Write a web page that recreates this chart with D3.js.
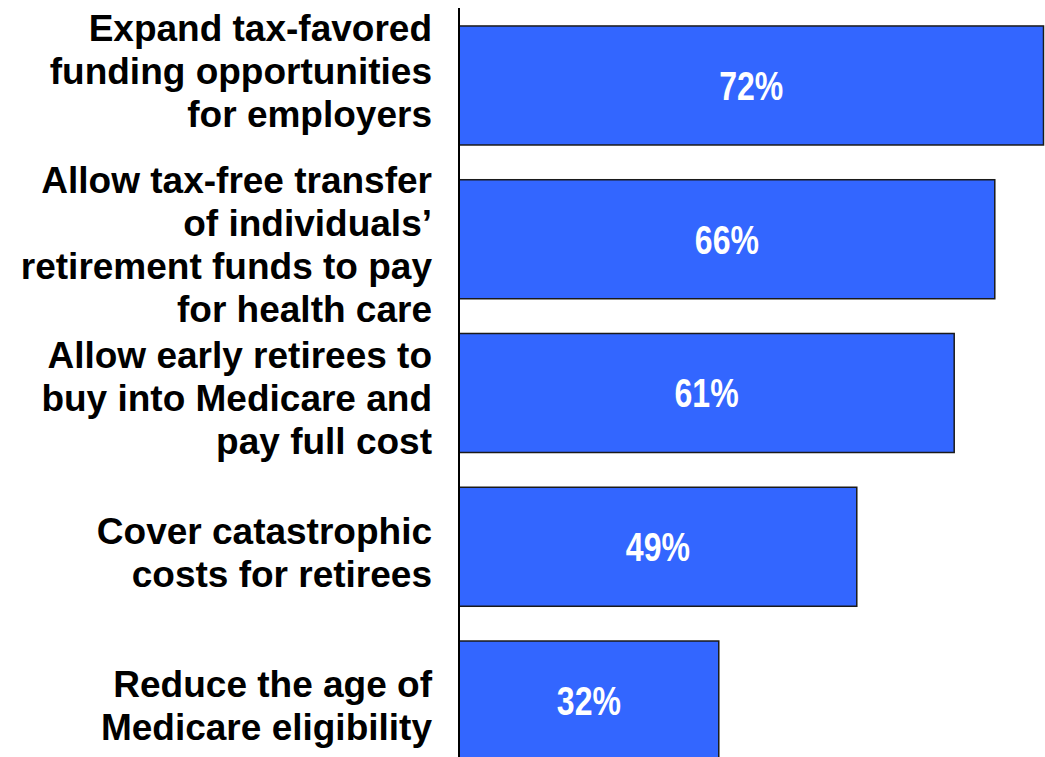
<!DOCTYPE html>
<html>
<head>
<meta charset="utf-8">
<script src="https://cdn.jsdelivr.net/npm/d3@7/dist/d3.min.js"></script>
<style>
  html, body { margin: 0; padding: 0; background: #ffffff; }
  svg { display: block; }
</style>
</head>
<body>
<svg id="chart" width="1045" height="757"></svg>
<script>
// ---- data ----
const categories = [
  "Expand tax-favored|funding opportunities|for employers",
  "Allow tax-free transfer|of individuals’|retirement funds to pay|for health care",
  "Allow early retirees to|buy into Medicare and|pay full cost",
  "Cover catastrophic|costs for retirees",
  "Reduce the age of|Medicare eligibility"
];
const values = [72, 66, 61, 49, 32];
const valueLabels = ["72%", "66%", "61%", "49%", "32%"];

// ---- layout ----
const W = 1045, H = 757;
const x0 = 459;
const svg = d3.select("#chart");

const x = d3.scaleLinear().domain([0, 72]).range([x0, 1043.5]);
const y = d3.scaleBand()
  .domain(d3.range(categories.length))
  .range([8.6, 777.4])
  .paddingInner(0.226)
  .paddingOuter(0.113);

// bars
svg.append("g").selectAll("rect")
  .data(values)
  .join("rect")
  .attr("x", x(0))
  .attr("y", (d, i) => y(i))
  .attr("width", d => x(d) - x(0))
  .attr("height", y.bandwidth())
  .attr("fill", "#3366FF")
  .attr("stroke", "#1a1a1a")
  .attr("stroke-width", 1.5);

// value labels (condensed bold via horizontal scaling)
const narrow = 0.8;
svg.append("g").selectAll("text")
  .data(values)
  .join("text")
  .attr("transform", (d, i) =>
    `translate(${(x(0) + x(d)) / 2},${y(i) + y.bandwidth() / 2}) scale(${narrow},1)`)
  .attr("dy", "0.36em")
  .attr("text-anchor", "middle")
  .attr("fill", "#ffffff")
  .style("font-family", "'Liberation Sans', Arial, sans-serif")
  .style("font-weight", "bold")
  .style("font-size", "40px")
  .text((d, i) => valueLabels[i]);

// axis line
const yAxis = d3.axisLeft(y).tickSize(0).tickFormat("");
const axisG = svg.append("g")
  .attr("transform", `translate(${x0},0)`)
  .call(yAxis);
axisG.select(".domain").remove();
svg.append("line")
  .attr("x1", x0).attr("x2", x0)
  .attr("y1", 8).attr("y2", H)
  .attr("stroke", "#000")
  .attr("stroke-width", 2);

// category labels
const lineH = 43;
const labelG = svg.append("g");
categories.forEach((c, i) => {
  const lines = c.split("|");
  const cy = y(i) + y.bandwidth() / 2 + 5 + (i === 0 ? -20 : 0);
  const firstY = cy - (lines.length - 1) * lineH / 2;
  const t = labelG.append("text")
    .attr("text-anchor", "end")
    .attr("fill", "#000")
    .style("font-family", "'Liberation Sans', Arial, sans-serif")
    .style("font-weight", "bold")
    .style("font-size", "37px");
  lines.forEach((ln, j) => {
    t.append("tspan")
      .attr("x", 432)
      .attr("y", firstY + j * lineH)
      .attr("dy", "0.36em")
      .text(ln);
  });
});
</script>
</body>
</html>
